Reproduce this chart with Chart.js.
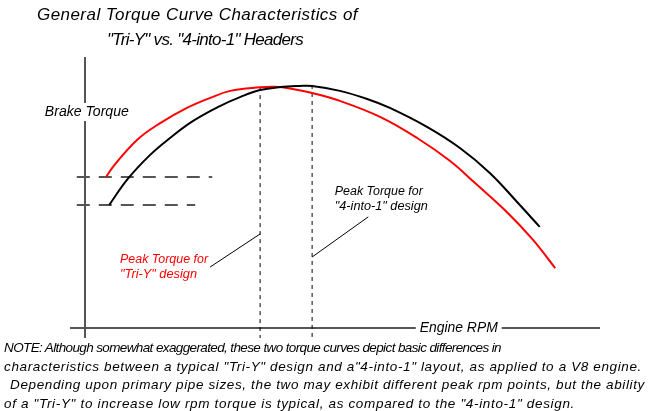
<!DOCTYPE html>
<html lang="en">
<head>
<meta charset="utf-8">
<title>Tri-Y vs 4-into-1 torque curves</title>
<script src="https://cdn.jsdelivr.net/npm/chart.js@4.4.1/dist/chart.umd.min.js"></script>
<style>
  body { margin: 0; background: #fff; }
  #wrap { position: relative; width: 650px; height: 411px; overflow: hidden; background: #fff; }
  #chart { position: absolute; left: 0; top: 0; }
  .txt {
    position: absolute;
    white-space: nowrap;
    font-family: "Liberation Sans", sans-serif;
    font-style: italic;
    color: #000;
    line-height: 18px;
  }
  .note { font-size: 13.5px; }
</style>
</head>
<body>
<div id="wrap">
  <canvas id="chart" width="650" height="411"></canvas>

  <div class="txt fit" data-w="321" style="left:37px;top:6px;font-size:17px">General Torque Curve Characteristics of</div>
  <div class="txt fit" data-w="196" style="left:107px;top:31px;font-size:17px">"Tri-Y" vs. "4-into-1" Headers</div>

  <div class="txt note fit" data-w="497" style="left:4px;top:339px">NOTE: Although somewhat exaggerated, these two torque curves depict basic differences in</div>
  <div class="txt note fit" data-w="638" style="left:4px;top:358px">characteristics between a typical "Tri-Y" design and a"4-into-1" layout, as applied to a V8 engine.</div>
  <div class="txt note fit" data-w="635" style="left:10px;top:376px">Depending upon primary pipe sizes, the two may exhibit different peak rpm points, but the ability</div>
  <div class="txt note fit" data-w="571" style="left:4px;top:395px">of a "Tri-Y" to increase low rpm torque is typical, as compared to the "4-into-1" design.</div>
</div>

<script>
// rpm / torque are relative units (the original sketch has no tick values)
const rpmTriY    = [4.1, 5.4, 10.1, 14.6, 19.8, 24.3, 28.2, 34.0, 36.9, 39.8, 44.1, 49.5, 57.3, 64.5, 70.9, 75.3, 81.9, 87.0, 91.3];
const torqueTriY = [55.7, 59.4, 69.4, 75.6, 81.2, 84.9, 87.5, 88.8, 89.0, 88.4, 86.7, 83.8, 77.9, 70.1, 61.6, 54.2, 42.8, 32.5, 22.1];

const rpm4into1    = [4.7, 8.3, 12.6, 16.5, 21.0, 26.2, 30.1, 34.0, 37.9, 41.7, 44.1, 49.5, 54.8, 59.2, 66.4, 72.8, 78.6, 83.9, 88.3];
const torque4into1 = [45.4, 55.0, 63.8, 70.1, 76.4, 81.9, 85.2, 87.8, 88.9, 89.3, 89.3, 87.5, 84.5, 81.2, 74.2, 66.4, 57.2, 46.5, 37.3];

// peak rpm markers and low-rpm torque levels
const peakRpm    = [34.0, 44.1];     // Tri-Y, 4-into-1
const peakTop    = [88.9, 89.7];
const lowTorque  = [55.7, 45.4];     // Tri-Y, 4-into-1
const lowEnd     = [24.7, 21.4];

// leader lines from labels to the peak markers
const leaderTriY   = [[24.3, 22.5], [34.0, 34.7]];
const leader4into1 = [[44.1, 26.2], [55.0, 41.0]];

const toPts = (xs, ys) => xs.map((x, i) => ({ x: x, y: ys[i] }));
const seg = (a, b) => [{ x: a[0], y: a[1] }, { x: b[0], y: b[1] }];

// labels inside the plot (left x, middle y in data units, drawn width in px)
const labels = [
    { text: 'Brake Torque', x: -7.8, y: 79.7, w: 84, size: 14, color: '#000', clear: true },
    { text: 'Engine RPM', x: 65.0, y: 0, w: 78, size: 14, color: '#000', clear: true },
    { text: 'Peak Torque for', x: 48.5, y: 50.2, w: 88, size: 12, color: '#000' },
    { text: '"4-into-1" design', x: 48.5, y: 44.6, w: 93, size: 12, color: '#000' },
    { text: 'Peak Torque for', x: 6.8, y: 25.1, w: 88, size: 12, color: '#ff0000' },
    { text: '"Tri-Y" design', x: 6.8, y: 19.6, w: 77, size: 12, color: '#ff0000' }
];

const labelPlugin = {
    id: 'sketchLabels',
    afterDatasetsDraw(chart) {
        const ctx = chart.ctx;
        const xs = chart.scales.x;
        const ys = chart.scales.y;
        labels.forEach(l => {
            const px = xs.getPixelForValue(l.x);
            const py = ys.getPixelForValue(l.y);
            ctx.save();
            ctx.font = 'italic ' + l.size + 'px "Liberation Sans"';
            const w = ctx.measureText(l.text).width;
            if (l.clear) {
                ctx.fillStyle = '#fff';
                ctx.fillRect(px - 4, py - 9, l.w + 8, 18);
            }
            ctx.translate(px, py);
            ctx.scale(l.w / w, 1);
            ctx.fillStyle = l.color;
            ctx.textBaseline = 'middle';
            ctx.fillText(l.text, 0, 0);
            ctx.restore();
        });
    }
};

const line = (data, color, width, dash, tension) => ({
    data: data,
    borderColor: color,
    borderWidth: width,
    borderDash: dash,
    pointRadius: 0,
    fill: false,
    tension: tension || 0,
    clip: false
});

new Chart(document.getElementById('chart'), {
    type: 'line',
    data: {
        datasets: [
            line(toPts(rpm4into1, torque4into1), '#000', 2, [], 0.4),
            line(toPts(rpmTriY, torqueTriY), '#ff0000', 2, [], 0.4),
            line(seg([peakRpm[0], peakTop[0]], [peakRpm[0], -3.7]), '#000', 1, [4, 4]),
            line(seg([peakRpm[1], peakTop[1]], [peakRpm[1], -3.7]), '#000', 1, [4, 4]),
            line(seg([-1.6, lowTorque[0]], [lowEnd[0], lowTorque[0]]), '#555', 2, [13, 9]),
            line(seg([-1.6, lowTorque[1]], [lowEnd[1], lowTorque[1]]), '#555', 2, [13, 9]),
            line(seg(leaderTriY[0], leaderTriY[1]), '#000', 1, []),
            line(seg(leader4into1[0], leader4into1[1]), '#000', 1, []),
            line(seg([-2.9, 0], [100, 0]), '#555', 2, []),
            line(seg([0, -3.7], [0, 100]), '#555', 2, [])
        ]
    },
    options: {
        responsive: false,
        animation: false,
        devicePixelRatio: 1,
        events: [],
        layout: { padding: { left: 85, right: 50, top: 57, bottom: 83 } },
        plugins: {
            legend: { display: false },
            title: { display: false },
            tooltip: { enabled: false }
        },
        scales: {
            x: { type: 'linear', min: 0, max: 100, display: false },
            y: { type: 'linear', min: 0, max: 100, display: false }
        }
    },
    plugins: [labelPlugin]
});

// spread or tighten each html text line to the width it has in the original
document.querySelectorAll('.fit').forEach(el => {
    const w = el.getBoundingClientRect().width;
    const n = el.textContent.length;
    el.style.letterSpacing = ((parseFloat(el.dataset.w) - w) / n) + 'px';
});
</script>
</body>
</html>
